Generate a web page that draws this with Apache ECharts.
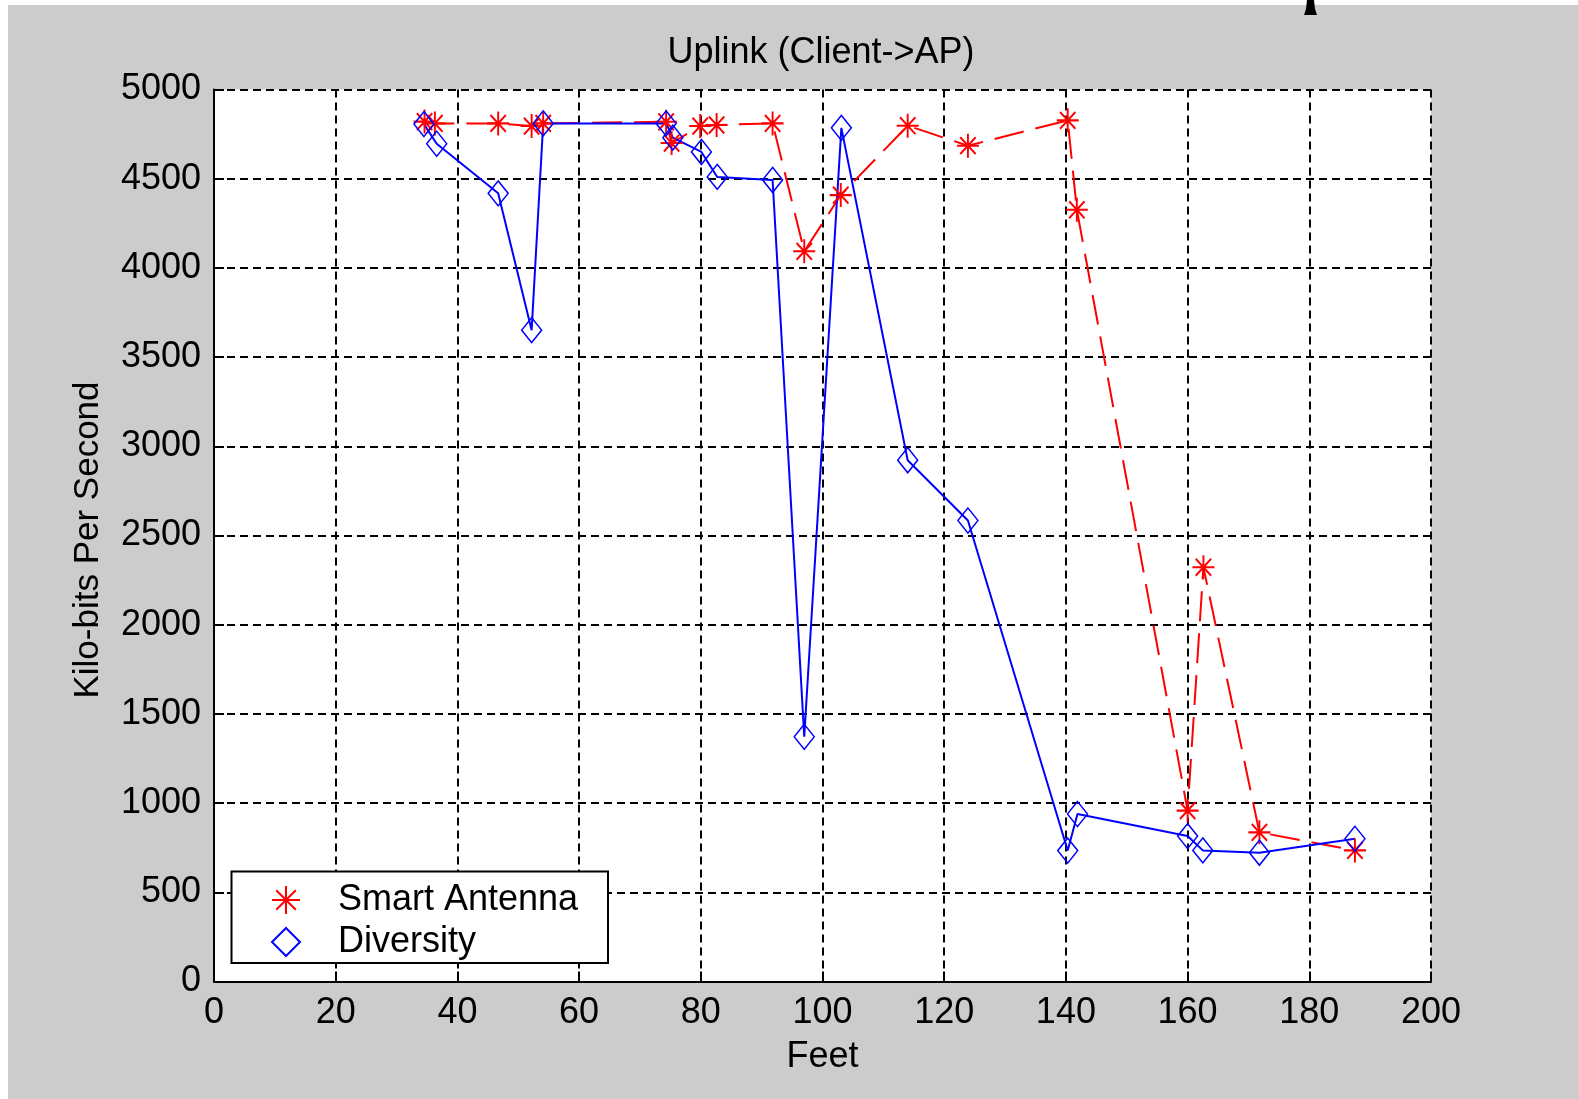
<!DOCTYPE html>
<html><head><meta charset="utf-8">
<script src="https://cdn.jsdelivr.net/npm/echarts@6/dist/echarts.min.js"></script>
<style>
html,body{margin:0;padding:0;background:#ffffff;}
#bg{position:absolute;left:8px;top:5px;width:1570px;height:1094px;background:#cccccc;}
#chart{position:absolute;left:0;top:0;width:1578px;height:1099px;}
</style></head><body>
<div id="bg"></div><div id="chart"></div>
<script>
// ---- data ----
const titleText = 'Uplink (Client->AP)';
const xAxisName = 'Feet';
const yAxisName = 'Kilo-bits Per Second';
const seriesNames = ['Smart Antenna', 'Diversity'];
const smartFeet = [34.6, 36.3, 46.7, 52.2, 54.1, 74.3, 75.2, 79.9, 82.6, 91.8, 97.0, 103.0, 114.0, 123.9, 140.3, 141.8, 160.0, 162.6, 171.8, 187.5];
const smartKbps = [4820, 4810, 4810, 4795, 4810, 4819, 4700, 4795, 4801, 4810, 4093, 4408, 4797, 4685, 4827, 4326, 958, 2322, 836, 735];
const divFeet = [34.5, 36.6, 46.7, 52.2, 54.1, 74.3, 75.4, 80.1, 82.7, 91.8, 97.0, 103.1, 114.0, 123.9, 140.3, 141.9, 160.0, 162.5, 171.8, 187.5];
const divKbps = [4806, 4696, 4418, 3651, 4810, 4810, 4730, 4650, 4510, 4493, 1372, 4785, 2922, 2584, 734, 939, 815, 735, 722, 800];
const xTicks = [0, 20, 40, 60, 80, 100, 120, 140, 160, 180, 200];
const yTicks = [0, 500, 1000, 1500, 2000, 2500, 3000, 3500, 4000, 4500, 5000];

// ---- chart ----
const FONT = '"Liberation Sans", Arial, sans-serif';
const FS = 36;
const starPath = 'path://M10,0L10,20M0,10L20,10M3,3L17,17M3,17L17,3';
const diamondPath = 'path://M10,0L20,14L10,28L0,14Z';
const zip = (a, b) => a.map((v, i) => [v, b[i]]);

const chart = echarts.init(document.getElementById('chart'), null, {renderer: 'canvas'});
chart.setOption({
  backgroundColor: 'transparent',
  animation: false,
  title: {
    text: titleText,
    left: 816, top: 30, textAlign: 'center',
    textStyle: {fontFamily: FONT, fontSize: FS, fontWeight: 'normal', color: '#000'}
  },
  grid: {
    left: 214, top: 89.5, right: 147, bottom: 117.5,
    show: true, backgroundColor: '#ffffff', borderWidth: 0
  },
  legend: {
    orient: 'vertical',
    left: 271, top: 882,
    padding: 0,
    itemWidth: 94, itemHeight: 28, itemGap: 6,
    textStyle: {fontFamily: FONT, fontSize: FS, color: '#000'},
    data: [
      {name: seriesNames[0], icon: starPath, itemStyle: {color: '#ff0000', borderColor: '#ff0000', borderWidth: 2}},
      {name: seriesNames[1], icon: 'path://M14,0L28,14L14,28L0,14Z', itemStyle: {color: 'rgba(0,0,0,0)', borderColor: '#0000ff', borderWidth: 2}}
    ],
    z: 10
  },
  graphic: [
    {type: 'rect', shape: {x: 231.5, y: 871.5, width: 376.5, height: 91.5},
     style: {fill: '#ffffff', stroke: '#000000', lineWidth: 2}, z: 5},
    {type: 'polygon', shape: {points: [[1307, 0], [1314, 0], [1315, 9], [1317, 15], [1304, 15], [1306, 9]]},
     style: {fill: '#000000'}, z: 5}
  ],
  xAxis: {
    type: 'value', min: xTicks[0], max: xTicks[xTicks.length - 1], interval: xTicks[1] - xTicks[0],
    name: xAxisName, nameLocation: 'middle', nameGap: 58,
    nameTextStyle: {fontFamily: FONT, fontSize: FS, color: '#000'},
    axisLine: {show: true, onZero: false, lineStyle: {color: '#000', width: 2}},
    axisTick: {show: true, inside: true, length: 10, lineStyle: {color: '#000', width: 2}},
    axisLabel: {margin: 14, fontFamily: FONT, fontSize: FS, color: '#000', formatter: v => String(v)},
    splitLine: {show: true, lineStyle: {color: '#000', width: 2, type: [8, 5]}}
  },
  yAxis: {
    type: 'value', min: yTicks[0], max: yTicks[yTicks.length - 1], interval: yTicks[1] - yTicks[0],
    name: yAxisName, nameLocation: 'middle', nameGap: 108,
    nameTextStyle: {fontFamily: FONT, fontSize: 35, color: '#000', padding: [0, 9, 0, 0]},
    axisLine: {show: true, onZero: false, lineStyle: {color: '#000', width: 2}},
    axisTick: {show: true, inside: true, length: 10, lineStyle: {color: '#000', width: 2}},
    axisLabel: {margin: 13, fontFamily: FONT, fontSize: FS, color: '#000', formatter: v => String(v)},
    splitLine: {show: true, lineStyle: {color: '#000', width: 2, type: [8, 5]}}
  },
  series: [
    {
      name: seriesNames[0], type: 'line', data: zip(smartFeet, smartKbps),
      symbol: starPath, symbolSize: [22, 24], showAllSymbol: true,
      itemStyle: {color: '#ff0000', borderColor: '#ff0000', borderWidth: 2},
      lineStyle: {color: '#ff0000', width: 2, type: [30, 12]},
      emphasis: {disabled: true}, z: 3
    },
    {
      name: seriesNames[1], type: 'line', data: zip(divFeet, divKbps),
      symbol: diamondPath, symbolSize: [20, 25], showAllSymbol: true,
      itemStyle: {color: 'rgba(0,0,0,0)', borderColor: '#0000ff', borderWidth: 1.5},
      lineStyle: {color: '#0000ff', width: 2, type: 'solid'},
      emphasis: {disabled: true}, z: 3
    }
  ]
});
</script>
</body></html>
